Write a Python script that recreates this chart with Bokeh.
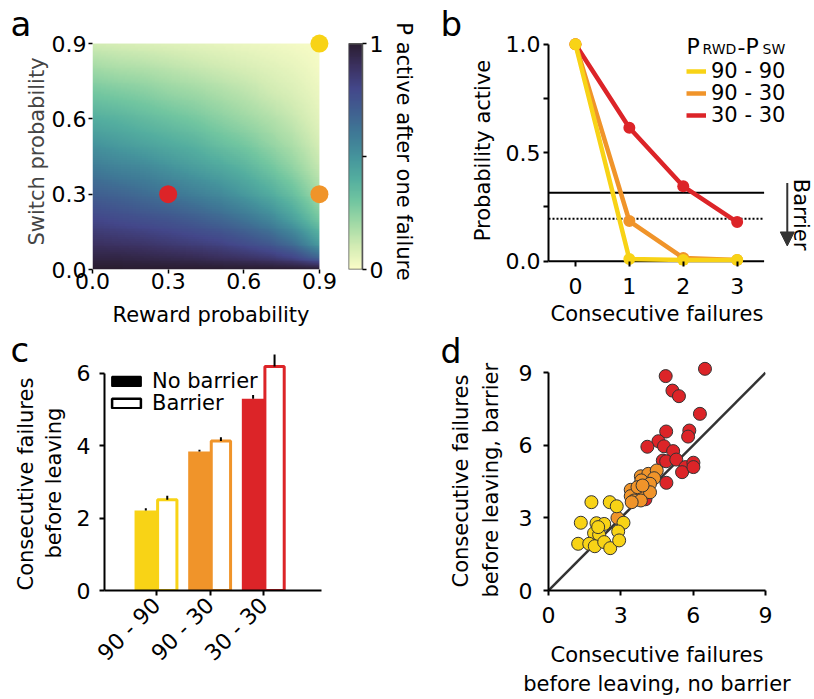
import numpy as np
from bokeh.plotting import figure
from bokeh.layouts import row, column
from bokeh.models import (FixedTicker, LinearColorMapper, Label, Legend, LegendItem, Title,
                          Arrow, NormalHead, Range1d, PrintfTickFormatter)
from bokeh.embed import file_html
from bokeh.resources import INLINE

FONT = "DejaVu Sans"

# ---------------- data ----------------
# panel a: P(active) after one failure, rows = switch probability, cols = reward probability
reward_grid = [0.0, 0.1, 0.2, 0.3, 0.4, 0.5, 0.6, 0.7, 0.8, 0.9]
switch_grid = [0.0, 0.05, 0.1, 0.2, 0.3, 0.4, 0.5, 0.6, 0.7, 0.8, 0.9]
p_active_one_failure = [
    [1.00, 1.00, 1.00, 1.00, 1.00, 1.00, 1.00, 1.00, 1.00, 1.00],
    [0.95, 0.95, 0.94, 0.93, 0.92, 0.90, 0.88, 0.85, 0.79, 0.66],
    [0.90, 0.89, 0.88, 0.86, 0.84, 0.82, 0.78, 0.73, 0.64, 0.47],
    [0.80, 0.78, 0.76, 0.74, 0.71, 0.67, 0.62, 0.55, 0.44, 0.29],
    [0.70, 0.68, 0.65, 0.62, 0.58, 0.54, 0.48, 0.41, 0.32, 0.19],
    [0.60, 0.57, 0.55, 0.51, 0.47, 0.43, 0.38, 0.31, 0.23, 0.13],
    [0.50, 0.47, 0.44, 0.41, 0.38, 0.33, 0.29, 0.23, 0.17, 0.09],
    [0.40, 0.38, 0.35, 0.32, 0.29, 0.25, 0.21, 0.17, 0.12, 0.06],
    [0.30, 0.28, 0.26, 0.23, 0.21, 0.18, 0.15, 0.11, 0.08, 0.04],
    [0.20, 0.18, 0.17, 0.15, 0.13, 0.11, 0.09, 0.07, 0.05, 0.02],
    [0.10, 0.09, 0.08, 0.07, 0.06, 0.05, 0.04, 0.03, 0.02, 0.01],
]
conditions = ["90 - 90", "90 - 30", "30 - 30"]
cond_reward = [0.9, 0.9, 0.3]
cond_switch = [0.9, 0.3, 0.3]

# panel b
failures = [0, 1, 2, 3]
p_active_90_90 = [1.0, 0.010, 0.005, 0.005]
p_active_90_30 = [1.0, 0.185, 0.015, 0.005]
p_active_30_30 = [1.0, 0.615, 0.345, 0.180]
barrier_high = 0.315
barrier_low = 0.195
b_x_lo, b_x_hi = -0.5, 3.5

# panel c
cond_pos = [1, 2, 3]
fails_no_barrier = [2.21, 3.84, 5.30]
fails_no_barrier_sem = [0.06, 0.05, 0.10]
fails_barrier = [2.51, 4.13, 6.19]
fails_barrier_sem = [0.11, 0.10, 0.33]

# panel d (per animal)
d_90_90_x = [1.78, 2.54, 2.83, 1.34, 1.99, 2.31, 3.11, 1.89, 2.10, 2.89, 1.23, 1.69, 1.92, 2.31, 2.56, 2.93, 2.06]
d_90_90_y = [3.65, 3.65, 3.48, 2.80, 2.78, 2.75, 2.80, 2.37, 2.31, 2.44, 1.93, 1.93, 1.83, 2.00, 1.75, 2.07, 2.62]
d_90_30_x = [3.83, 4.14, 4.49, 4.38, 3.85, 4.21, 3.41, 3.76, 4.21, 3.41, 3.55, 3.83, 3.45, 2.86, 3.69, 3.90]
d_90_30_y = [4.72, 4.82, 4.96, 4.64, 4.55, 4.41, 4.16, 4.06, 4.06, 3.90, 3.72, 3.72, 3.65, 3.00, 4.27, 4.34]
d_30_30_x = [4.86, 6.49, 5.14, 5.41, 6.28, 4.88, 5.84, 5.79, 4.56, 4.10, 4.79, 5.17, 4.74, 4.88, 5.30, 5.68,
             5.54, 6.01, 6.01, 4.89, 4.02]
d_30_30_y = [8.86, 9.16, 8.26, 8.03, 7.30, 6.57, 6.61, 6.36, 6.17, 5.94, 5.96, 5.76, 5.37, 5.34, 5.41, 5.10,
             4.89, 5.28, 5.10, 4.45, 3.77]
d_lo, d_hi = 0, 9

# ---------------- style ----------------
YELLOW = "#f8d316"
ORANGE = "#f0942a"
RED = "#dc2428"
cond_colors = [YELLOW, ORANGE, RED]

stop_pos = [0.0, 0.1, 0.2, 0.3, 0.4, 0.5, 0.6, 0.7, 0.8, 0.9, 1.0]
stop_hex = ["#fbfdc8", "#d3ecb4", "#a2daa6", "#72c6a0", "#54ae9f", "#45949c",
            "#3f7a96", "#405f90", "#43478a", "#3b3160", "#2a1d30"]
_rgb = np.array([[int(h[i:i + 2], 16) for i in (1, 3, 5)] for h in stop_hex], dtype=float)
_t = np.linspace(0, 1, 256)
palette = ["#%02x%02x%02x" % tuple(int(round(np.interp(t, stop_pos, _rgb[:, k]))) for k in range(3)) for t in _t]
mapper = LinearColorMapper(palette=palette, low=0, high=1)

TICK = "22px"
LAB = "21px"


def display_grid(grid, xs, ys, n=120):
    """Resample the read grid for a smooth on-screen image (display only)."""
    g = np.asarray(grid, dtype=float)
    fx = xs[0] + (np.arange(n) + 0.5) * (xs[-1] - xs[0]) / n
    fy = ys[0] + (np.arange(n) + 0.5) * (ys[-1] - ys[0]) / n
    rows = np.array([np.interp(fx, xs, r) for r in g])
    return np.array([np.interp(fy, ys, rows[:, j]) for j in range(n)]).T


def base_fig(**kw):
    p = figure(output_backend="svg", toolbar_location=None, **kw)
    p.outline_line_color = None
    p.xgrid.grid_line_color = None
    p.ygrid.grid_line_color = None
    p.background_fill_color = "white"
    p.border_fill_color = "white"
    return p


def style_axis(ax, ticks, size=TICK, line_width=2, tick_out=5, standoff=4):
    ax.ticker = FixedTicker(ticks=ticks)
    ax.minor_tick_line_color = None
    ax.major_tick_out = tick_out
    ax.major_tick_in = 0
    ax.axis_line_width = line_width
    ax.major_tick_line_width = line_width
    ax.major_label_text_font = FONT
    ax.major_label_text_font_size = size
    ax.major_label_text_color = "black"
    ax.major_label_standoff = standoff
    ax.axis_label_text_font = FONT
    ax.axis_label_text_font_size = LAB
    ax.axis_label_text_font_style = "normal"
    ax.axis_label_text_color = "black"


def flabel(p, text, dx, dy, size=LAB, angle=0.0, align="center", baseline="middle", color="black"):
    p.add_layout(Label(x=p.x_range.start, y=p.y_range.start, x_offset=dx, y_offset=dy, text=text,
                       angle=angle, text_align=align, text_baseline=baseline, text_font=FONT,
                       text_font_size=size, text_color=color))


def side_title(p, side, text, size=LAB, align="left", offset=0, standoff=0, valign="middle"):
    p.add_layout(Title(text=text, align=align, offset=int(round(offset)), standoff=int(round(standoff)),
                       vertical_align=valign, text_font=FONT, text_font_size=size,
                       text_font_style="normal", text_color="black"), side)


def legend_row(p, label, renderer, loc, glyph_width, glyph_height, standoff):
    p.add_layout(Legend(items=[LegendItem(label=label, renderers=[renderer])], location=loc,
                        label_text_font=FONT, label_text_font_size=LAB, label_text_color="black",
                        glyph_width=glyph_width, glyph_height=glyph_height, label_height=16,
                        label_standoff=standoff, spacing=0, padding=0, margin=0,
                        border_line_color=None, background_fill_alpha=0, inactive_fill_alpha=0))


# ---------------- panel a ----------------
pa = base_fig(width=340, height=329, x_range=Range1d(0, 0.94), y_range=Range1d(0, 0.94),
              min_border_left=92, min_border_right=11, min_border_top=33, min_border_bottom=60)
pa.image(image=[display_grid(p_active_one_failure, reward_grid, switch_grid)], x=reward_grid[0], y=switch_grid[0],
         dw=reward_grid[-1] - reward_grid[0], dh=switch_grid[-1] - switch_grid[0], color_mapper=mapper)
pa.scatter(cond_reward, cond_switch, size=18, color=cond_colors, line_color=None)
style_axis(pa.xaxis, [0, 0.3, 0.6, 0.9], tick_out=4, standoff=-1, line_width=1.5)
style_axis(pa.yaxis, [0, 0.3, 0.6, 0.9], tick_out=4, standoff=2, line_width=1.5)
for ax in (pa.xaxis[0], pa.yaxis[0]):
    ax.bounds = (0, 0.9)
    ax.axis_line_color = None
    ax.formatter = PrintfTickFormatter(format="%.1f")
pa.xaxis.axis_label = "Reward probability"
pa.yaxis.axis_label = "Switch probability"
pa.yaxis.axis_label_text_color = "#444444"
pa.xaxis.axis_label_standoff = 11
pa.yaxis.axis_label_standoff = 0
side_title(pa, "above", "a", size="34px", offset=-82, standoff=-20, valign="bottom")

# colorbar
pcb = base_fig(width=90, height=329, x_range=Range1d(0, 1), y_range=Range1d(0, 1.0456), y_axis_location="right",
               min_border_left=8, min_border_right=68, min_border_top=33, min_border_bottom=60)
pcb.image(image=[np.linspace(0, 1, 256).reshape(256, 1)], x=0, y=0, dw=1, dh=1, color_mapper=mapper)
pcb.quad(left=[0], right=[1], bottom=[0], top=[1], fill_color=None, line_color="#555555", line_width=1.5)
pcb.xaxis.visible = False
style_axis(pcb.yaxis, [0, 0.5, 1], tick_out=4, standoff=3, line_width=1.5)
pcb.yaxis.bounds = (0, 1)
pcb.yaxis.major_label_overrides = {0: "0", 0.5: "", 1: "1"}
pcb.yaxis.axis_line_color = "#555555"
pcb.yaxis.axis_label = "P active after one failure"
pcb.yaxis.axis_label_standoff = 6

# ---------------- panel b ----------------
pb = base_fig(width=384, height=332, x_range=Range1d(-0.5, 4.435), y_range=Range1d(-0.02, 1.04),
              min_border_left=118, min_border_right=0, min_border_top=35, min_border_bottom=67)
for loc, dash in ((0, "solid"), (barrier_high, "solid"), (barrier_low, "2 2")):
    pb.segment(x0=[b_x_lo], y0=[loc], x1=[b_x_hi], y1=[loc], line_color="black", line_width=2, line_dash=dash)
series = [(p_active_30_30, RED), (p_active_90_30, ORANGE), (p_active_90_90, YELLOW)]
line_r = {}
for vals, col in series:
    line_r[col] = pb.line(failures, vals, line_width=4.5, color=col)
    pb.scatter(failures, vals, size=12, color=col, line_color=None)
style_axis(pb.xaxis, [0, 1, 2, 3], standoff=11)
pb.xaxis.axis_line_color = None
pb.xaxis.major_tick_out = 1
pb.xaxis.major_tick_in = 4
style_axis(pb.yaxis, [0, 0.25, 0.5, 0.75, 1.0], standoff=3)
pb.yaxis.bounds = (0, 1)
pb.yaxis.formatter = PrintfTickFormatter(format="%.1f")
pb.yaxis.major_label_overrides = {0.25: "", 0.75: ""}
pb.yaxis.axis_label = "Probability active"
pb.yaxis.axis_label_standoff = 8
side_title(pb, "below", "Consecutive failures", offset=2, standoff=9)
for i, yloc in enumerate([182, 160, 138]):
    legend_row(pb, conditions[i], line_r[cond_colors[i]], (138, yloc), 20, 10, 5)
flabel(pb, "P", 138, 219, size="22px", align="left", baseline="alphabetic")
flabel(pb, "RWD", 154, 217, size="14px", align="left", baseline="alphabetic")
flabel(pb, "-", 189, 219, size="22px", align="left", baseline="alphabetic")
flabel(pb, "P", 197, 219, size="22px", align="left", baseline="alphabetic")
flabel(pb, "SW", 214, 217, size="14px", align="left", baseline="alphabetic")
arrow_x = 3.93
pb.add_layout(Arrow(x_start=arrow_x, y_start=0.36, x_end=arrow_x, y_end=0.07, line_color="#333333",
                    line_width=2, end=NormalHead(size=14, fill_color="#333333", line_color="#333333")))
flabel(pb, "Barrier", 252, 51, angle=-np.pi / 2)
side_title(pb, "above", "b", size="34px", offset=-108, standoff=-16, valign="bottom")

# ---------------- panel c ----------------
pc = base_fig(width=430, height=369, x_range=Range1d(0.03, 4.075), y_range=Range1d(0, 6.547),
              min_border_left=104, min_border_right=109, min_border_top=24, min_border_bottom=108)
x_nb = [c - 0.2 for c in cond_pos]
x_b = [c + 0.2 for c in cond_pos]
pc.vbar(x=x_nb, top=fails_no_barrier, width=0.42, fill_color=cond_colors, line_color=None)
pc.vbar(x=x_b, top=fails_barrier, width=0.36, fill_color="white", line_color=cond_colors, line_width=3)
pc.segment(x0=x_nb, y0=fails_no_barrier, x1=x_nb,
           y1=[v + e for v, e in zip(fails_no_barrier, fails_no_barrier_sem)], line_color="black", line_width=2)
pc.segment(x0=x_b, y0=fails_barrier, x1=x_b,
           y1=[v + e for v, e in zip(fails_barrier, fails_barrier_sem)], line_color="black", line_width=2)
# hidden renderers only used for the black / white legend swatches
leg_nb = pc.vbar(x=x_nb, top=fails_no_barrier, width=0.42, fill_color="black", line_color="black",
                 line_width=2, visible=False)
leg_b = pc.vbar(x=x_b, top=fails_barrier, width=0.36, fill_color="white", line_color="black",
                line_width=2.5, visible=False)
legend_row(pc, "No barrier", leg_nb, (4, 197), 36, 12, 8)
legend_row(pc, "Barrier", leg_b, (4, 175), 36, 12, 8)
style_axis(pc.xaxis, cond_pos, standoff=6)
style_axis(pc.yaxis, [0, 2, 4, 6], standoff=9)
pc.xaxis.major_label_overrides = {cond_pos[i]: conditions[i] for i in range(3)}
pc.xaxis.major_label_orientation = np.pi / 4
pc.yaxis.bounds = (0, 6)
side_title(pc, "left", "before leaving", offset=32, standoff=13)
side_title(pc, "left", "Consecutive failures", offset=0, standoff=-8)
side_title(pc, "above", "c", size="34px", offset=-94, standoff=-32, valign="bottom")

# ---------------- panel d ----------------
pd_ = base_fig(width=384, height=366, x_range=Range1d(0, 9), y_range=Range1d(0, 9.752),
               min_border_left=118, min_border_right=49, min_border_top=22, min_border_bottom=108)
pd_.line(x=[d_lo, d_hi], y=[d_lo, d_hi], line_color="#333333", line_width=2.5)
for xs, ys, col in ((d_30_30_x, d_30_30_y, RED), (d_90_30_x, d_90_30_y, ORANGE), (d_90_90_x, d_90_90_y, YELLOW)):
    pd_.scatter(xs, ys, size=13, fill_color=col, line_color="#333333", line_width=1)
style_axis(pd_.xaxis, [0, 3, 6, 9], standoff=11)
style_axis(pd_.yaxis, [0, 3, 6, 9], standoff=11)
pd_.yaxis.bounds = (0, 9)
pd_.xaxis.axis_label = "Consecutive failures"
pd_.xaxis.axis_label_standoff = 17
side_title(pd_, "below", "before leaving, no barrier", align="center", standoff=3)
side_title(pd_, "left", "before leaving, barrier", offset=-7, standoff=23)
side_title(pd_, "left", "Consecutive failures", offset=3, standoff=-14)
side_title(pd_, "above", "d", size="33px", offset=-108, standoff=-32, valign="bottom")

layout = row(column(row(pa, pcb), row(pc)), column(row(pb), row(pd_)))
open("out.html", "w").write(file_html(layout, INLINE))
